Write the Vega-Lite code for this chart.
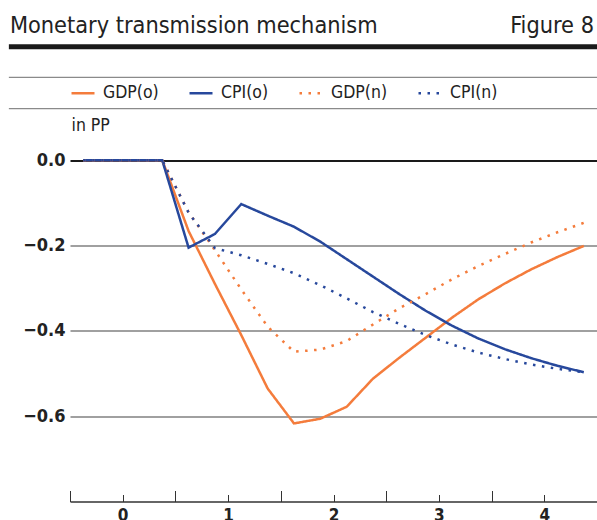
{
  "$schema": "https://vega.github.io/schema/vega-lite/v6.json",
  "width": 527,
  "height": 384,
  "padding": {"left": 6, "top": 13.5, "right": 0, "bottom": 0},
  "background": "white",
  "config": {"view": {"stroke": null}, "font": "DejaVu Sans Condensed"},
  "layer": [
    {
      "data": {"values": [{"t": -0.375, "GDP(o)": 0, "CPI(o)": 0, "GDP(n)": 0, "CPI(n)": 0},
        {"t": -0.125, "GDP(o)": 0, "CPI(o)": 0, "GDP(n)": 0, "CPI(n)": 0},
        {"t": 0.125, "GDP(o)": 0, "CPI(o)": 0, "GDP(n)": 0, "CPI(n)": 0},
        {"t": 0.375, "GDP(o)": 0, "CPI(o)": 0, "GDP(n)": 0, "CPI(n)": 0},
        {"t": 0.625, "GDP(o)": -0.166, "CPI(o)": -0.205, "GDP(n)": -0.122, "CPI(n)": -0.123},
        {"t": 0.875, "GDP(o)": -0.29, "CPI(o)": -0.173, "GDP(n)": -0.211, "CPI(n)": -0.206},
        {"t": 1.125, "GDP(o)": -0.41, "CPI(o)": -0.103, "GDP(n)": -0.303, "CPI(n)": -0.223},
        {"t": 1.375, "GDP(o)": -0.535, "CPI(o)": -0.13, "GDP(n)": -0.39, "CPI(n)": -0.243},
        {"t": 1.625, "GDP(o)": -0.617, "CPI(o)": -0.156, "GDP(n)": -0.449, "CPI(n)": -0.265},
        {"t": 1.875, "GDP(o)": -0.606, "CPI(o)": -0.191, "GDP(n)": -0.444, "CPI(n)": -0.293},
        {"t": 2.125, "GDP(o)": -0.578, "CPI(o)": -0.232, "GDP(n)": -0.424, "CPI(n)": -0.324},
        {"t": 2.375, "GDP(o)": -0.512, "CPI(o)": -0.273, "GDP(n)": -0.385, "CPI(n)": -0.356},
        {"t": 2.625, "GDP(o)": -0.463, "CPI(o)": -0.314, "GDP(n)": -0.347, "CPI(n)": -0.384},
        {"t": 2.875, "GDP(o)": -0.416, "CPI(o)": -0.353, "GDP(n)": -0.314, "CPI(n)": -0.41},
        {"t": 3.125, "GDP(o)": -0.369, "CPI(o)": -0.388, "GDP(n)": -0.279, "CPI(n)": -0.432},
        {"t": 3.375, "GDP(o)": -0.326, "CPI(o)": -0.418, "GDP(n)": -0.248, "CPI(n)": -0.451},
        {"t": 3.625, "GDP(o)": -0.289, "CPI(o)": -0.443, "GDP(n)": -0.22, "CPI(n)": -0.466},
        {"t": 3.875, "GDP(o)": -0.256, "CPI(o)": -0.464, "GDP(n)": -0.193, "CPI(n)": -0.479},
        {"t": 4.125, "GDP(o)": -0.227, "CPI(o)": -0.482, "GDP(n)": -0.169, "CPI(n)": -0.489},
        {"t": 4.375, "GDP(o)": -0.201, "CPI(o)": -0.497, "GDP(n)": -0.147, "CPI(n)": -0.497}]},
      "transform": [{"fold": ["GDP(o)", "CPI(o)", "GDP(n)", "CPI(n)"], "as": ["s", "v"]}],
      "mark": {"type": "line", "strokeWidth": 2.5, "strokeCap": "butt", "strokeJoin": "miter"},
      "encoding": {
        "x": {"field": "t", "type": "quantitative",
          "scale": {"domain": [-0.5, 4.5], "nice": false, "zero": false},
          "axis": {"title": null, "orient": "bottom", "grid": false,
            "values": [-0.5, -0.25, 0, 0.25, 0.5, 0.75, 1, 1.25, 1.5, 1.75, 2, 2.25, 2.5, 2.75, 3, 3.25, 3.5, 3.75, 4, 4.25, 4.5],
            "domainColor": "#333", "domainWidth": 1.5, "tickColor": "#333", "tickWidth": 1,
            "tickSize": {"condition": {"test": "abs((datum.value + 0.5) % 1) < 0.001", "value": -11}, "value": -7},
            "labelExpr": "datum.value % 1 === 0 ? format(datum.value, 'd') : ''",
            "labelFont": "DejaVu Sans Condensed", "labelFontWeight": "bold", "labelFontSize": 17, "labelColor": "#222",
            "labelBaseline": "top", "labelPadding": 12.5, "labelFlush": false, "labelOverlap": false, "labelBound": false}},
        "y": {"field": "v", "type": "quantitative",
          "scale": {"domain": [-0.8, 0.1], "nice": false, "zero": false},
          "axis": {"title": "in PP", "values": [0, -0.2, -0.4, -0.6], "format": ".1f", "ticks": false, "domain": false, "grid": true,
            "gridColor": {"condition": {"test": "datum.value === 0", "value": "#1a1a1a"}, "value": "#808080"},
            "gridWidth": {"condition": {"test": "datum.value === 0", "value": 2}, "value": 1.3},
            "labelFont": "DejaVu Sans Condensed", "labelFontWeight": "bold", "labelFontSize": 18, "labelColor": "#222", "labelPadding": 5,
            "titleAngle": 0, "titleAlign": "left", "titleBaseline": "alphabetic", "titleX": 1, "titleY": 12.7,
            "titleFont": "DejaVu Sans Condensed", "titleFontWeight": "normal", "titleFontSize": 17.5, "titleColor": "#222"}},
        "color": {"field": "s", "type": "nominal",
          "scale": {"domain": ["GDP(o)", "CPI(o)", "GDP(n)", "CPI(n)"], "range": ["#f47c3c", "#27489c", "#f47c3c", "#27489c"]},
          "legend": {"orient": "none", "legendX": 0, "legendY": -37.5, "direction": "horizontal", "title": null,
            "symbolType": "stroke", "symbolSize": 529, "symbolStrokeWidth": 2.5,
            "labelFont": "DejaVu Sans Condensed", "labelFontSize": 17.5, "labelColor": "#222", "labelOffset": 7,
            "columnPadding": 25, "padding": 0}},
        "strokeDash": {"field": "s", "type": "nominal",
          "scale": {"domain": ["GDP(o)", "CPI(o)", "GDP(n)", "CPI(n)"], "range": [[1, 0], [1, 0], [2.5, 6.5], [2.5, 6.5]]},
          "legend": {"orient": "none", "legendX": 0, "legendY": -37.5, "direction": "horizontal", "title": null,
            "symbolType": "stroke", "symbolSize": 529, "symbolStrokeWidth": 2.5,
            "labelFont": "DejaVu Sans Condensed", "labelFontSize": 17.5, "labelColor": "#222", "labelOffset": 7,
            "columnPadding": 25, "padding": 0}}
      }
    },
    {
      "data": {"values": [{}]},
      "mark": {"type": "rule", "color": "#1a1a1a", "strokeWidth": 5, "strokeCap": "butt"},
      "encoding": {"x": {"datum": -1.08, "type": "quantitative"}, "x2": {"datum": 4.5}, "y": {"datum": 0.266, "type": "quantitative"}}
    },
    {
      "data": {"values": [{}]},
      "mark": {"type": "rule", "color": "#8a8a8a", "strokeWidth": 1.3, "strokeCap": "butt"},
      "encoding": {"x": {"datum": -1.08, "type": "quantitative"}, "x2": {"datum": 4.5}, "y": {"datum": 0.194, "type": "quantitative"}}
    },
    {
      "data": {"values": [{}]},
      "mark": {"type": "rule", "color": "#8a8a8a", "strokeWidth": 1.3, "strokeCap": "butt"},
      "encoding": {"x": {"datum": -1.08, "type": "quantitative"}, "x2": {"datum": 4.5}, "y": {"datum": 0.121, "type": "quantitative"}}
    },
    {
      "data": {"values": [{}]},
      "mark": {"type": "text", "text": "Monetary transmission mechanism", "align": "left", "baseline": "alphabetic", "fontSize": 23.3, "color": "#222", "font": "DejaVu Sans Condensed"},
      "encoding": {"x": {"datum": -1.07, "type": "quantitative"}, "y": {"datum": 0.299, "type": "quantitative"}}
    },
    {
      "data": {"values": [{}]},
      "mark": {"type": "text", "text": "Figure 8", "align": "right", "baseline": "alphabetic", "fontSize": 23.3, "color": "#222", "font": "DejaVu Sans Condensed", "dx": -3},
      "encoding": {"x": {"datum": 4.5, "type": "quantitative"}, "y": {"datum": 0.299, "type": "quantitative"}}
    }
  ]
}
